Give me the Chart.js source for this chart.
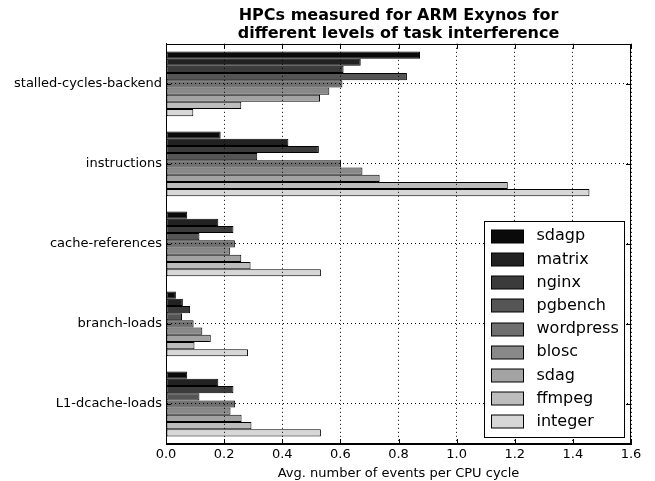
<!DOCTYPE html>
<html>
<head>
<meta charset="utf-8">
<script src="https://cdn.jsdelivr.net/npm/chart.js@4.4.1/dist/chart.umd.min.js"></script>
<style>
  body { margin: 0; background: #fff; }
  #wrap { width: 655px; height: 481px; }
</style>
</head>
<body>
<div id="wrap"><canvas id="hpcChart" width="655" height="481"></canvas></div>
<script>
// categories (top to bottom) and one array per workload
const counters = ['stalled-cycles-backend', 'instructions', 'cache-references', 'branch-loads', 'L1-dcache-loads'];
const workloads = ['sdagp', 'matrix', 'nginx', 'pgbench', 'wordpress', 'blosc', 'sdag', 'ffmpeg', 'integer'];

const sdagp     = [0.874, 0.188, 0.073, 0.034, 0.073];
const matrix    = [0.670, 0.421, 0.180, 0.058, 0.180];
const nginx     = [0.611, 0.526, 0.232, 0.083, 0.232];
const pgbench   = [0.829, 0.314, 0.115, 0.055, 0.115];
const wordpress = [0.607, 0.602, 0.237, 0.095, 0.238];
const blosc     = [0.562, 0.676, 0.221, 0.125, 0.222];
const sdag      = [0.530, 0.735, 0.259, 0.154, 0.260];
const ffmpeg    = [0.259, 1.176, 0.291, 0.098, 0.294];
const integer   = [0.094, 1.457, 0.533, 0.282, 0.533];

const xTicks = [0, 0.2, 0.4, 0.6, 0.8, 1.0, 1.2, 1.4, 1.6];

const series = [sdagp, matrix, nginx, pgbench, wordpress, blosc, sdag, ffmpeg, integer];
const grises = ['#0a0a0a', '#222222', '#3b3b3b', '#555555', '#6f6f6f', '#898989', '#a3a3a3', '#bdbdbd', '#d7d7d7'];

const FONT = 'DejaVu Sans';

// marco, marcas hacia dentro y leyenda dentro del área del gráfico
const marcoPlugin = {
    id: 'marco',
    afterDraw(chart) {
        const { ctx, chartArea: a, scales } = chart;
        const x = scales.x, y = scales.y;
        ctx.save();
        ctx.strokeStyle = '#000';
        ctx.lineWidth = 1;
        ctx.strokeRect(Math.round(a.left) + 0.5, Math.round(a.top) + 0.5,
            Math.round(a.right - a.left) - 1, Math.round(a.bottom - a.top) - 1);

        ctx.beginPath();
        x.ticks.forEach((t, i) => {
            const px = Math.round(x.getPixelForTick(i)) + 0.5;
            ctx.moveTo(px, a.bottom); ctx.lineTo(px, a.bottom - 5);
            ctx.moveTo(px, a.top); ctx.lineTo(px, a.top + 5);
        });
        y.ticks.forEach((t, i) => {
            const py = Math.round(y.getPixelForTick(i)) + 0.5;
            ctx.moveTo(a.left, py); ctx.lineTo(a.left + 5, py);
            ctx.moveTo(a.right, py); ctx.lineTo(a.right - 5, py);
        });
        ctx.stroke();

        // leyenda
        const w = 140, h = 216;
        const lx = Math.round(a.right - 7 - w) + 0.5;
        const ly = Math.round(a.bottom - 7 - h) + 0.5;
        ctx.fillStyle = '#fff';
        ctx.fillRect(lx, ly, w, h);
        ctx.strokeRect(lx, ly, w, h);
        ctx.font = '16px "' + FONT + '"';
        ctx.textBaseline = 'middle';
        chart.data.datasets.forEach((ds, i) => {
            const cy = ly + 14.7 + i * 23.2;
            ctx.fillStyle = ds.backgroundColor;
            ctx.fillRect(lx + 7, Math.round(cy - 6.5), 32, 13);
            ctx.strokeRect(lx + 7, Math.round(cy - 6.5), 32, 13);
            ctx.fillStyle = '#000';
            ctx.fillText(ds.label, lx + 52, cy);
        });
        ctx.restore();
    }
};

new Chart(document.getElementById('hpcChart'), {
    type: 'bar',
    data: {
        labels: counters,
        datasets: workloads.map((name, i) => ({
            label: name,
            data: series[i],
            backgroundColor: grises[i],
            borderColor: '#000',
            borderWidth: 1,
            borderSkipped: false,
            categoryPercentage: 0.81,
            barPercentage: 1.0
        }))
    },
    options: {
        indexAxis: 'y',
        responsive: false,
        animation: false,
        layout: { padding: { left: 0, right: 24, top: 0, bottom: 0 } },
        plugins: {
            legend: { display: false },
            tooltip: { enabled: false },
            title: {
                display: true,
                fullSize: false,
                text: ['HPCs measured for ARM Exynos for', 'different levels of task interference'],
                color: '#000',
                font: { family: FONT, size: 16, weight: 'bold', lineHeight: 1.12 },
                padding: { top: 7, bottom: 1 }
            }
        },
        scales: {
            x: {
                min: 0,
                max: 1.6,
                afterBuildTicks: (s) => { s.ticks = xTicks.map(v => ({ value: v })); },
                afterFit: (s) => { s.height = 37; },
                ticks: {
                    color: '#000',
                    font: { family: FONT, size: 13 },
                    padding: 3,
                    maxRotation: 0,
                    callback: (v) => Number(v).toFixed(1)
                },
                grid: { color: '#000', lineWidth: 1, drawTicks: false, z: 1 },
                border: { display: true, color: '#000', dash: [1, 3], z: 1 },
                title: {
                    display: true,
                    text: 'Avg. number of events per CPU cycle',
                    color: '#000',
                    font: { family: FONT, size: 13 },
                    padding: { top: 0, bottom: 0 }
                }
            },
            y: {
                afterFit: (s) => { s.width = 166; },
                ticks: {
                    color: '#000',
                    font: { family: FONT, size: 13 },
                    padding: 4
                },
                grid: { color: '#000', lineWidth: 1, drawTicks: false, offset: false, z: 1 },
                border: { display: true, color: '#000', dash: [1, 3], z: 1 }
            }
        }
    },
    plugins: [marcoPlugin]
});
</script>
</body>
</html>
